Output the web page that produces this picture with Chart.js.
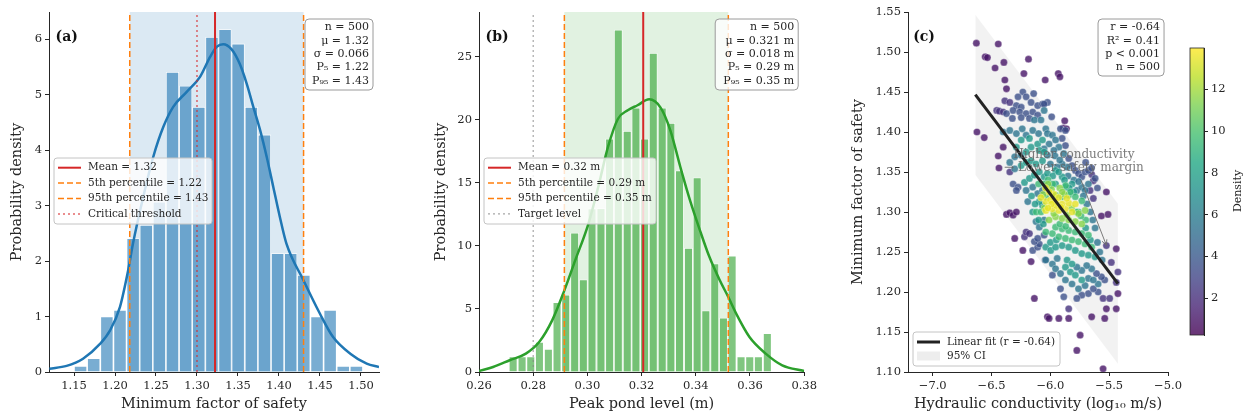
<!DOCTYPE html>
<html>
<head>
<meta charset="utf-8">
<script src="https://cdn.jsdelivr.net/npm/chart.js@4.4.1/dist/chart.umd.min.js"></script>
<style>
  html, body { margin: 0; padding: 0; background: #fff; }
  #wrap { position: relative; width: 1247px; height: 419px; overflow: hidden; }
  canvas { position: absolute; top: 0; }
</style>
</head>
<body>
<div id="wrap">
  <canvas id="chartA" width="410" height="419" style="left:0px;width:410px;height:419px"></canvas>
  <canvas id="chartB" width="396" height="419" style="left:424px;width:396px;height:419px"></canvas>
  <canvas id="chartC" width="344" height="419" style="left:841px;width:344px;height:419px"></canvas>
  <canvas id="chartCb" width="62" height="419" style="left:1185px;width:62px;height:419px"></canvas>
</div>
<script>
// ---------- panel (a): minimum factor of safety ----------
const fosBins = [1.1580, 1.1740, 1.1901, 1.2061, 1.2221, 1.2381, 1.2541, 1.2701, 1.2862, 1.3022, 1.3182,
                 1.3342, 1.3502, 1.3663, 1.3823, 1.3983, 1.4143, 1.4303, 1.4464, 1.4624, 1.4784, 1.4944];
const fosDensity = [0.11, 0.25, 1.00, 1.12, 2.41, 2.65, 3.07, 5.41, 5.16, 4.78, 6.04,
                    6.18, 5.92, 4.78, 4.28, 2.14, 2.14, 1.75, 1.00, 1.12, 0.11, 0.11];
const fosKdeX = [1.12, 1.141, 1.161, 1.182, 1.194, 1.206, 1.216, 1.222, 1.2345, 1.2467, 1.259, 1.271, 1.2875,
                 1.3037, 1.316, 1.324, 1.332, 1.342, 1.352, 1.3606, 1.3687, 1.377, 1.385, 1.393, 1.401, 1.409,
                 1.43, 1.45, 1.466, 1.487, 1.507, 1.522];
const fosKdeY = [0.06, 0.11, 0.24, 0.51, 0.75, 1.17, 1.83, 2.32, 3.16, 3.88, 4.42, 4.78, 5.05,
                 5.32, 5.68, 5.86, 5.91, 5.82, 5.56, 5.20, 4.78, 4.36, 3.88, 3.34, 2.80, 2.32,
                 1.65, 1.05, 0.63, 0.33, 0.15, 0.09];
const fosMean = 1.322, fosP5 = 1.218, fosP95 = 1.430, fosCritical = 1.30;
const fosTicks = [1.15, 1.20, 1.25, 1.30, 1.35, 1.40, 1.45, 1.50];
const densTicksA = [0, 1, 2, 3, 4, 5, 6];
const fosStats = ['n = 500', 'μ = 1.32', 'σ = 0.066', 'P₅ = 1.22', 'P₉₅ = 1.43'];
const fosLegend = ['Mean = 1.32', '5th percentile = 1.22', '95th percentile = 1.43', 'Critical threshold'];

// ---------- panel (b): peak pond level ----------
const pondBins = [0.2726, 0.2759, 0.2791, 0.2823, 0.2856, 0.2888, 0.2920, 0.2953, 0.2985, 0.3017,
                  0.3050, 0.3082, 0.3114, 0.3147, 0.3179, 0.3211, 0.3243, 0.3276, 0.3308, 0.3340,
                  0.3373, 0.3405, 0.3437, 0.3470, 0.3502, 0.3534, 0.3567, 0.3599, 0.3631, 0.3664];
const pondDensity = [1.24, 1.24, 1.24, 2.38, 1.83, 5.53, 6.14, 11.06, 7.35, 12.97,
                     13.0, 18.52, 27.17, 19.13, 20.98, 18.52, 25.32, 20.98, 19.76, 16.0,
                     9.84, 15.43, 4.89, 8.62, 4.31, 9.23, 1.24, 1.24, 1.24, 3.07];
const pondKdeX = [0.26, 0.2652, 0.2713, 0.2773, 0.2822, 0.287, 0.2915, 0.2955, 0.3004, 0.3040, 0.3076,
                  0.3113, 0.3149, 0.3185, 0.3228, 0.327, 0.3306, 0.3343, 0.3379, 0.3416, 0.3449, 0.3488,
                  0.352, 0.3549, 0.3598, 0.3658, 0.3719, 0.38];
const pondKdeY = [0.08, 0.4, 0.93, 1.46, 2.38, 4.1, 6.48, 8.86, 11.78, 14.68, 17.86,
                  20.1, 20.77, 21.17, 21.64, 20.98, 19.18, 16.27, 13.6, 11.2, 9.2, 7.3,
                  5.95, 4.63, 2.78, 1.46, 0.53, 0.08];
const pondMean = 0.3206, pondP5 = 0.2915, pondP95 = 0.3520, pondTarget = 0.28;
const pondTicks = [0.26, 0.28, 0.30, 0.32, 0.34, 0.36, 0.38];
const densTicksB = [0, 5, 10, 15, 20, 25];
const pondStats = ['n = 500', 'μ = 0.321 m', 'σ = 0.018 m', 'P₅ = 0.29 m', 'P₉₅ = 0.35 m'];
const pondLegend = ['Mean = 0.32 m', '5th percentile = 0.29 m', '95th percentile = 0.35 m', 'Target level'];

// ---------- panel (c): conductivity vs factor of safety, grouped by point density ----------
const ptsD1 = [[-6.629,1.511],[-6.443,1.510],[-6.554,1.494],[-6.535,1.493],[-6.395,1.487],[-6.470,1.480],
  [-6.186,1.491],[-6.225,1.473],[-6.387,1.465],[-6.044,1.465],[-6.373,1.454],[-6.624,1.400],[-6.562,1.393],
  [-6.401,1.381],[-6.443,1.370],[-6.437,1.355],[-5.933,1.473],[-5.919,1.469],[-5.878,1.414],[-5.891,1.405],
  [-5.863,1.404],[-5.524,1.325],[-6.373,1.297],[-6.345,1.299],[-6.317,1.296],[-6.289,1.300],[-6.303,1.267],
  [-6.234,1.252],[-6.164,1.238],[-6.136,1.192],[-6.025,1.169],[-5.440,1.254],[-5.426,1.198],[-5.440,1.179],
  [-5.524,1.179],[-5.538,1.167],[-5.649,1.169],[-6.011,1.167],[-5.928,1.167],[-5.844,1.167],[-5.747,1.146],
  [-5.775,1.127],[-5.552,1.104],[-5.566,1.295],[-5.510,1.297]];
const ptsD2 = [[-5.524,1.258],[-5.482,1.237],[-5.426,1.225],[-5.440,1.212],[-5.552,1.192],[-5.496,1.192],
  [-6.220,1.269],[-6.206,1.275],[-6.178,1.273],[-6.345,1.350],[-5.635,1.317],[-5.663,1.327],[-5.844,1.179],
  [-5.649,1.347],[-5.635,1.339],[-6.456,1.427],[-6.434,1.426],[-6.401,1.425],[-6.387,1.439],[-6.345,1.437]];
const ptsD3 = [[-6.234,1.450],[-6.275,1.444],[-6.142,1.448],[-6.206,1.444],[-6.289,1.433],[-6.248,1.431],
  [-6.164,1.437],[-6.108,1.433],[-6.067,1.435],[-6.373,1.423],[-6.317,1.427],[-6.261,1.425],[-6.206,1.423],
  [-6.150,1.425],[-6.108,1.421],[-6.323,1.417],[-6.248,1.418],[-6.178,1.417],[-6.317,1.335],[-6.275,1.331],
  [-6.289,1.327],[-6.025,1.437],[-6.053,1.435],[-5.989,1.419],[-5.914,1.404],[-5.872,1.402],[-5.900,1.392],
  [-5.872,1.383],[-5.844,1.367],[-5.816,1.358],[-5.788,1.352],[-5.761,1.348],[-5.733,1.344],[-5.705,1.350],
  [-5.677,1.352],[-5.677,1.198],[-5.594,1.200],[-5.635,1.204],[-5.733,1.196],[-5.775,1.192],[-5.886,1.194],
  [-5.914,1.204],[-5.983,1.221],[-5.538,1.215],[-5.566,1.219],[-5.608,1.223],[-6.150,1.252],[-6.108,1.256],
  [-6.094,1.260],[-6.044,1.240],[-6.136,1.263],[-6.108,1.267],[-6.053,1.271],[-5.650,1.355],[-5.620,1.342],
  [-5.600,1.330],[-5.700,1.362]];
const ptsD5 = [[-6.401,1.400],[-6.345,1.402],[-6.289,1.398],[-6.239,1.404],[-6.206,1.396],[-6.150,1.402],
  [-6.100,1.398],[-6.039,1.404],[-6.136,1.415],[-6.080,1.415],[-6.053,1.427],[-6.303,1.369],[-6.248,1.371],
  [-6.345,1.362],[-6.303,1.354],[-6.206,1.327],[-6.150,1.331],[-6.108,1.323],[-6.067,1.327],[-6.025,1.398],
  [-5.983,1.396],[-5.956,1.390],[-6.011,1.385],[-6.053,1.379],[-5.928,1.381],[-5.970,1.377],[-6.025,1.371],
  [-5.886,1.373],[-5.858,1.356],[-5.900,1.360],[-5.942,1.356],[-5.775,1.327],[-5.733,1.331],[-5.705,1.327],
  [-5.677,1.335],[-6.039,1.240],[-5.983,1.235],[-5.942,1.242],[-5.956,1.229],[-5.914,1.223],[-5.872,1.215],
  [-5.816,1.210],[-5.761,1.204],[-5.705,1.208],[-5.594,1.210],[-5.649,1.229],[-5.691,1.233],[-5.733,1.227],
  [-5.775,1.231],[-5.677,1.217],[-5.635,1.215],[-6.122,1.288],[-6.094,1.281],[-6.053,1.290],[-6.192,1.313],
  [-6.000,1.360],[-5.960,1.370],[-5.920,1.365],[-5.850,1.345],[-5.800,1.340],[-5.760,1.338],[-5.720,1.320],
  [-5.690,1.310],[-5.660,1.300],[-5.640,1.290],[-5.620,1.280],[-5.600,1.262],[-5.580,1.250],[-5.560,1.240]];
const ptsD7 = [[-6.164,1.381],[-6.108,1.385],[-6.067,1.390],[-6.289,1.381],[-6.248,1.390],[-6.178,1.392],
  [-6.206,1.375],[-6.094,1.377],[-6.053,1.375],[-6.248,1.358],[-6.206,1.362],[-6.164,1.364],[-6.122,1.360],
  [-6.067,1.364],[-6.220,1.337],[-6.178,1.342],[-6.136,1.346],[-6.094,1.350],[-6.053,1.344],[-6.025,1.348],
  [-5.900,1.344],[-5.956,1.335],[-6.011,1.331],[-5.872,1.331],[-5.816,1.335],[-5.956,1.352],[-6.039,1.256],
  [-5.997,1.252],[-5.956,1.256],[-5.900,1.258],[-5.844,1.256],[-5.788,1.252],[-5.733,1.248],[-5.677,1.246],
  [-5.621,1.244],[-5.858,1.240],[-5.816,1.235],[-5.872,1.231],[-5.830,1.225],[-5.788,1.221],[-5.733,1.215],
  [-6.067,1.308],[-6.094,1.313],[-6.160,1.320],[-5.980,1.345],[-5.930,1.350],[-5.880,1.340],[-5.840,1.330],
  [-5.800,1.325],[-5.700,1.280],[-5.660,1.265],[-6.000,1.262],[-5.950,1.265],[-6.060,1.285],[-6.100,1.290],
  [-6.130,1.310],[-6.150,1.300]];
const ptsD9 = [[-5.844,1.321],[-5.900,1.319],[-5.956,1.321],[-6.039,1.319],[-5.788,1.319],[-5.733,1.314],
  [-5.928,1.269],[-5.872,1.267],[-5.816,1.265],[-5.761,1.263],[-5.705,1.260],[-5.649,1.256],[-5.983,1.273],
  [-6.039,1.275],[-5.956,1.281],[-5.900,1.279],[-5.844,1.277],[-5.788,1.275],[-5.733,1.273],[-5.677,1.271],
  [-6.120,1.300],[-6.020,1.340],[-6.100,1.335],[-5.980,1.335],[-5.760,1.300],[-5.700,1.290],[-6.050,1.335],
  [-5.870,1.333],[-5.830,1.325],[-5.780,1.300],[-5.740,1.295],[-5.920,1.285],[-5.870,1.282],[-6.080,1.300]];
const ptsD11 = [[-6.011,1.290],[-5.956,1.294],[-5.900,1.292],[-5.844,1.290],[-5.788,1.288],[-5.733,1.285],
  [-5.761,1.298],[-5.705,1.302],[-5.920,1.330],[-5.880,1.322],[-6.050,1.305],[-5.990,1.328],[-6.060,1.322],
  [-5.970,1.298],[-5.860,1.296],[-5.820,1.305],[-5.900,1.325],[-6.020,1.335]];
const ptsD13 = [[-6.039,1.302],[-5.983,1.304],[-5.928,1.302],[-5.872,1.304],[-5.816,1.300],[-6.039,1.313],
  [-5.956,1.313],[-5.900,1.310],[-5.844,1.311],[-5.788,1.310],[-5.970,1.322],[-5.930,1.318],[-6.000,1.315],
  [-5.950,1.308],[-6.010,1.325],[-6.080,1.318],[-6.040,1.330],[-5.990,1.310],[-5.910,1.306],[-5.860,1.317],
  [-6.020,1.305]];
const bandDensity = [1.0, 2.2, 3.6, 5.5, 7.5, 9.5, 11.5, 13.5];
const bandPoints = [ptsD1, ptsD2, ptsD3, ptsD5, ptsD7, ptsD9, ptsD11, ptsD13];
const fitX = [-6.638, -5.426];
const fitY = [1.4467, 1.2104];
const ciUpper = [1.5467, 1.3104];
const ciLower = [1.3467, 1.1104];
const densMin = 0.24, densMax = 13.98;
const kTicks = [-7.0, -6.5, -6.0, -5.5, -5.0];
const fosTicksC = [1.10, 1.15, 1.20, 1.25, 1.30, 1.35, 1.40, 1.45, 1.50, 1.55];
const cbTicks = [2, 4, 6, 8, 10, 12];
const corrStats = ['r = -0.64', 'R² = 0.41', 'p < 0.001', 'n = 500'];
const noteText = ['Higher conductivity', '→ Lower safety margin'];
const noteAt = { x: -5.80, y1: 1.371, y2: 1.3546 };
const arrowFrom = [-5.739, 1.3396], arrowTo = [-5.524, 1.2584];

// ---------- shared styling ----------
const SERIF = '"DejaVu Serif", "Liberation Serif", serif';
const INK = '#262626';
const VIRIDIS = ['#440154', '#482475', '#414487', '#355f8d', '#2a788e', '#21918c',
                 '#22a884', '#44bf70', '#7ad151', '#bddf26', '#fde725'];

function viridis(t, a) {
  t = Math.max(0, Math.min(1, t));
  const p = t * (VIRIDIS.length - 1), i = Math.min(Math.floor(p), VIRIDIS.length - 2), f = p - i;
  const c0 = VIRIDIS[i], c1 = VIRIDIS[i + 1];
  const ch = (c, k) => parseInt(c.substr(1 + 2 * k, 2), 16);
  const mix = k => Math.round(ch(c0, k) + (ch(c1, k) - ch(c0, k)) * f);
  return `rgba(${mix(0)},${mix(1)},${mix(2)},${a})`;
}

function axis(o) {
  return {
    type: 'linear', min: o.min, max: o.max, offset: false, position: o.position,
    afterBuildTicks: s => { s.ticks = o.ticks.map(v => ({ value: v })); },
    afterFit: s => { if (s.isHorizontal()) s.height = o.size; else s.width = o.size; },
    grid: { display: true, drawOnChartArea: false, drawTicks: true, tickLength: 4, color: INK, lineWidth: 1, offset: false },
    border: { display: true, color: INK, width: 1 },
    ticks: { color: INK, font: { family: SERIF, size: 11.5 }, padding: 3, autoSkip: false, maxRotation: 0, callback: v => o.fmt(v) },
    title: { display: !!o.title, text: o.title, color: INK, font: { family: SERIF, size: 14.5 }, padding: o.titlePad || 0 }
  };
}

function roundBox(ctx, x, y, w, h, r, fill, stroke) {
  ctx.beginPath();
  ctx.moveTo(x + r, y);
  ctx.arcTo(x + w, y, x + w, y + h, r);
  ctx.arcTo(x + w, y + h, x, y + h, r);
  ctx.arcTo(x, y + h, x, y, r);
  ctx.arcTo(x, y, x + w, y, r);
  ctx.closePath();
  ctx.fillStyle = fill; ctx.fill();
  ctx.lineWidth = 1; ctx.strokeStyle = stroke; ctx.stroke();
}

function drawStats(ctx, b, lines) {
  roundBox(ctx, b.x, b.y, b.w, b.h, 4, 'rgba(255,255,255,0.8)', '#9a9a9a');
  ctx.font = '11px ' + SERIF; ctx.fillStyle = INK; ctx.textAlign = 'right'; ctx.textBaseline = 'middle';
  lines.forEach((t, i) => ctx.fillText(t, b.x + b.w - 4, b.y + 8.3 + i * 13.35));
}

function drawLegend(ctx, b, items) {
  roundBox(ctx, b.x, b.y, b.w, b.h, 3, 'rgba(255,255,255,0.8)', '#c4c4c4');
  ctx.font = '10.5px ' + SERIF; ctx.textAlign = 'left'; ctx.textBaseline = 'middle';
  items.forEach((it, i) => {
    const y = b.y + b.first + i * b.step;
    ctx.save();
    if (it.patch) {
      ctx.fillStyle = it.patch; ctx.fillRect(b.x + 4, y - 4.5, 23, 9);
    } else {
      ctx.strokeStyle = it.color; ctx.lineWidth = it.width; ctx.setLineDash(it.dash || []);
      ctx.beginPath(); ctx.moveTo(b.x + 4, y); ctx.lineTo(b.x + 27, y); ctx.stroke();
    }
    ctx.restore();
    ctx.fillStyle = INK; ctx.fillText(it.label, b.x + 34, y);
  });
}

function panelLabel(ctx, area, text) {
  ctx.font = 'bold 14px ' + SERIF; ctx.fillStyle = '#111'; ctx.textAlign = 'left'; ctx.textBaseline = 'middle';
  ctx.fillText(text, area.left + 0.02 * area.width, area.top + 25);
}

function vline(x, yMax, color, width, dash) {
  return { type: 'line', data: [{ x, y: 0 }, { x, y: yMax }], borderColor: color, borderWidth: width,
           borderDash: dash, borderCapStyle: 'butt', pointRadius: 0, fill: false, order: 1 };
}

const DASH = [6, 3], DOT = [2, 3];
const RED = '#d62728', ORANGE = '#ff7f0e';

function histChart(id, o) {
  const decor = {
    id: 'decor',
    beforeDatasetsDraw(chart) {
      const { ctx, chartArea: a, scales: { x } } = chart;
      const x0 = x.getPixelForValue(o.spanLo), x1 = x.getPixelForValue(o.spanHi);
      ctx.save(); ctx.fillStyle = o.spanColor; ctx.fillRect(x0, a.top, x1 - x0, a.bottom - a.top); ctx.restore();
    },
    afterDraw(chart) {
      const { ctx, chartArea: a } = chart;
      ctx.save();
      panelLabel(ctx, a, o.label);
      drawStats(ctx, { x: a.right - 6 - o.statsW, y: 19, w: o.statsW, h: 71 }, o.stats);
      drawLegend(ctx, { x: a.left + 5, y: 158, w: o.legendW, h: 66, first: 9.7, step: 15.4 }, o.legend);
      ctx.restore();
    }
  };
  return new Chart(document.getElementById(id), {
    type: 'bar',
    data: {
      datasets: [
        { type: 'bar', data: o.bins.map((b, i) => ({ x: b, y: o.dens[i] })), backgroundColor: o.barColor,
          borderColor: '#ffffff', borderWidth: 0.8, inflateAmount: 0, barPercentage: 1, categoryPercentage: 1, order: 5 },
        { type: 'line', data: o.kdeX.map((x, i) => ({ x, y: o.kdeY[i] })), borderColor: o.kdeColor, borderWidth: 2.5,
          pointRadius: 0, fill: false, cubicInterpolationMode: 'monotone', order: 3 },
        ...o.vlines
      ]
    },
    options: {
      responsive: false, animation: false, devicePixelRatio: 1, events: [],
      layout: { padding: { left: 0, top: 12, right: o.padRight, bottom: 0 } },
      plugins: { legend: { display: false }, tooltip: { enabled: false } },
      scales: {
        x: axis({ min: o.xMin, max: o.xMax, ticks: o.xTicks, fmt: v => v.toFixed(2), size: 47,
                  title: o.xTitle, titlePad: { top: 0, bottom: 6 } }),
        y: axis({ min: 0, max: o.yMax, ticks: o.yTicks, fmt: v => String(v), size: o.ySize,
                  title: 'Probability density', titlePad: { top: 9, bottom: 0 } })
      }
    },
    plugins: [decor]
  });
}

histChart('chartA', {
  label: '(a)', bins: fosBins, dens: fosDensity, kdeX: fosKdeX, kdeY: fosKdeY,
  barColor: 'rgba(31,119,180,0.6)', kdeColor: '#1f77b4',
  spanLo: fosP5, spanHi: fosP95, spanColor: 'rgba(31,119,180,0.16)',
  xMin: 1.1195, xMax: 1.522, xTicks: fosTicks, yMax: 6.49, yTicks: densTicksA,
  xTitle: 'Minimum factor of safety', ySize: 49, padRight: 31,
  statsW: 68, stats: fosStats, legendW: 158,
  vlines: [vline(fosMean, 6.49, RED, 2, []), vline(fosP5, 6.49, ORANGE, 1.5, DASH),
           vline(fosP95, 6.49, ORANGE, 1.5, DASH), vline(fosCritical, 6.49, 'rgba(214,39,40,0.7)', 1.5, DOT)],
  legend: [{ label: fosLegend[0], color: RED, width: 2 }, { label: fosLegend[1], color: ORANGE, width: 1.5, dash: DASH },
           { label: fosLegend[2], color: ORANGE, width: 1.5, dash: DASH },
           { label: fosLegend[3], color: 'rgba(214,39,40,0.7)', width: 1.5, dash: DOT }]
});

histChart('chartB', {
  label: '(b)', bins: pondBins, dens: pondDensity, kdeX: pondKdeX, kdeY: pondKdeY,
  barColor: 'rgba(44,160,44,0.6)', kdeColor: '#2ca02c',
  spanLo: pondP5, spanHi: pondP95, spanColor: 'rgba(44,160,44,0.14)',
  xMin: 0.26, xMax: 0.38, xTicks: pondTicks, yMax: 28.57, yTicks: densTicksB,
  xTitle: 'Peak pond level (m)', ySize: 55, padRight: 11,
  statsW: 83, stats: pondStats, legendW: 172,
  vlines: [vline(pondMean, 28.57, RED, 2, []), vline(pondP5, 28.57, ORANGE, 1.5, DASH),
           vline(pondP95, 28.57, ORANGE, 1.5, DASH), vline(pondTarget, 28.57, 'rgba(128,128,128,0.7)', 1.2, DOT)],
  legend: [{ label: pondLegend[0], color: RED, width: 2 }, { label: pondLegend[1], color: ORANGE, width: 1.5, dash: DASH },
           { label: pondLegend[2], color: ORANGE, width: 1.5, dash: DASH },
           { label: pondLegend[3], color: 'rgba(128,128,128,0.7)', width: 1.2, dash: DOT }]
});

// ---------- panel (c) ----------
const normD = d => (d - densMin) / (densMax - densMin);
const scatterSets = bandPoints.map((pts, i) => ({
  type: 'scatter',
  data: pts.map(p => ({ x: p[0], y: p[1] })),
  backgroundColor: viridis(normD(bandDensity[i]), 0.8),
  pointBackgroundColor: viridis(normD(bandDensity[i]), 0.8),
  borderColor: 'rgba(255,255,255,0.6)', pointBorderColor: 'rgba(255,255,255,0.6)',
  pointBorderWidth: 0.5, pointRadius: 3.6, order: 20 - i
}));

const decorC = {
  id: 'decorC',
  afterDatasetsDraw(chart) {
    const { ctx, scales: { x, y } } = chart;
    ctx.save();
    ctx.font = '12px ' + SERIF; ctx.fillStyle = 'rgba(100,100,100,0.85)'; ctx.textAlign = 'center'; ctx.textBaseline = 'middle';
    ctx.fillText(noteText[0], x.getPixelForValue(noteAt.x), y.getPixelForValue(noteAt.y1));
    ctx.fillText(noteText[1], x.getPixelForValue(noteAt.x), y.getPixelForValue(noteAt.y2));
    const ax = x.getPixelForValue(arrowFrom[0]), ay = y.getPixelForValue(arrowFrom[1]);
    const bx = x.getPixelForValue(arrowTo[0]), by = y.getPixelForValue(arrowTo[1]);
    const ang = Math.atan2(by - ay, bx - ax);
    ctx.strokeStyle = 'rgba(110,110,110,0.9)'; ctx.lineWidth = 1;
    ctx.beginPath(); ctx.moveTo(ax, ay); ctx.lineTo(bx, by);
    ctx.moveTo(bx - 6 * Math.cos(ang - 0.45), by - 6 * Math.sin(ang - 0.45)); ctx.lineTo(bx, by);
    ctx.lineTo(bx - 6 * Math.cos(ang + 0.45), by - 6 * Math.sin(ang + 0.45));
    ctx.stroke();
    ctx.restore();
  },
  afterDraw(chart) {
    const { ctx, chartArea: a } = chart;
    ctx.save();
    panelLabel(ctx, a, '(c)');
    ctx.font = '11px ' + SERIF;
    roundBox(ctx, a.right - 70, 19, 66, 57, 4, 'rgba(255,255,255,0.8)', '#9a9a9a');
    ctx.fillStyle = INK; ctx.textAlign = 'right'; ctx.textBaseline = 'middle';
    corrStats.forEach((t, i) => ctx.fillText(t, a.right - 8, 27.3 + i * 13.35));
    drawLegend(ctx, { x: a.left + 5, y: a.bottom - 40, w: 147, h: 34, first: 10, step: 14 }, [
      { label: 'Linear fit (r = -0.64)', color: '#222', width: 3 },
      { label: '95% CI', patch: 'rgba(128,128,128,0.14)' }
    ]);
    ctx.restore();
  }
};

new Chart(document.getElementById('chartC'), {
  type: 'scatter',
  data: {
    datasets: [
      { type: 'line', data: fitX.map((x, i) => ({ x, y: ciUpper[i] })), borderColor: 'rgba(0,0,0,0)', borderWidth: 1,
        pointRadius: 0, fill: '+1', backgroundColor: 'rgba(128,128,128,0.1)', order: 40 },
      { type: 'line', data: fitX.map((x, i) => ({ x, y: ciLower[i] })), borderColor: 'rgba(0,0,0,0)', borderWidth: 1,
        pointRadius: 0, fill: false, order: 41 },
      ...scatterSets,
      { type: 'line', data: fitX.map((x, i) => ({ x, y: fitY[i] })), borderColor: '#222222', borderWidth: 3,
        pointRadius: 0, fill: false, order: 1 }
    ]
  },
  options: {
    responsive: false, animation: false, devicePixelRatio: 1, events: [],
    layout: { padding: { left: 0, top: 12, right: 12, bottom: 0 } },
    plugins: { legend: { display: false }, tooltip: { enabled: false } },
    scales: {
      x: axis({ min: -7.21, max: -5.0, ticks: kTicks, fmt: v => (v < 0 ? '\u2212' : '') + Math.abs(v).toFixed(1), size: 47,
                title: 'Hydraulic conductivity (log₁₀ m/s)', titlePad: { top: 0, bottom: 6 } }),
      y: axis({ min: 1.10, max: 1.55, ticks: fosTicksC, fmt: v => v.toFixed(2), size: 67,
                title: 'Minimum factor of safety', titlePad: { top: 9, bottom: 0 } })
    }
  },
  plugins: [decorC]
});

// ---------- colorbar ----------
const cbDecor = {
  id: 'cbDecor',
  afterDraw(chart) {
    const { ctx, chartArea: a, scales: { y } } = chart;
    const yb = y.getPixelForValue(densMin), yt = y.getPixelForValue(densMax);
    const g = ctx.createLinearGradient(0, yb, 0, yt);
    VIRIDIS.forEach((c, i) => g.addColorStop(i / (VIRIDIS.length - 1), viridis(i / (VIRIDIS.length - 1), 0.8)));
    ctx.save();
    ctx.fillStyle = g; ctx.fillRect(a.left, yt, a.right - a.left, yb - yt);
    ctx.strokeStyle = INK; ctx.lineWidth = 0.8; ctx.strokeRect(a.left, yt, a.right - a.left, yb - yt);
    ctx.translate(53, 191); ctx.rotate(-Math.PI / 2);
    ctx.font = '11px ' + SERIF; ctx.fillStyle = INK; ctx.textAlign = 'center'; ctx.textBaseline = 'middle';
    ctx.fillText('Density', 0, 0);
    ctx.restore();
  }
};

new Chart(document.getElementById('chartCb'), {
  type: 'scatter',
  data: { datasets: [] },
  options: {
    responsive: false, animation: false, devicePixelRatio: 1, events: [],
    layout: { padding: { left: 5, top: 48, right: 0, bottom: 84 } },
    plugins: { legend: { display: false }, tooltip: { enabled: false } },
    scales: {
      x: { type: 'linear', display: false, min: 0, max: 1 },
      y: axis({ min: densMin, max: densMax, ticks: cbTicks, fmt: v => String(v), size: 43, position: 'right' })
    }
  },
  plugins: [cbDecor]
});
</script>
</body>
</html>
